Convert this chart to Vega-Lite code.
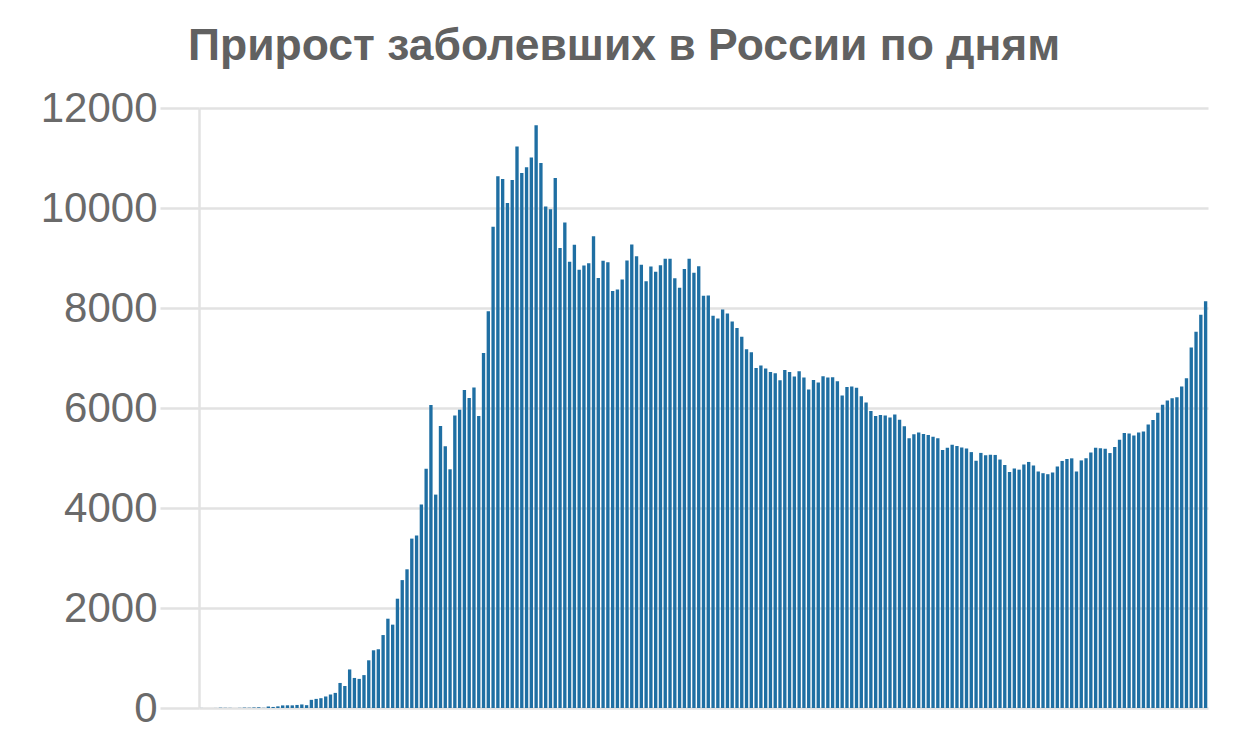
{
  "$schema": "https://vega.github.io/schema/vega-lite/v6.json",
  "width": 1009,
  "height": 600,
  "autosize": {"type": "none"},
  "padding": {"left": 199, "top": 108, "right": 34, "bottom": 28},
  "background": "#ffffff",
  "view": {"stroke": null},
  "title": {
    "text": "Прирост заболевших в России по дням",
    "font": "Liberation Sans",
    "fontSize": 44.5,
    "fontWeight": "bold",
    "color": "#616161",
    "anchor": "middle",
    "frame": "bounds",
    "offset": 18
  },
  "data": {"values": [
    {"d":"2020-03-02","v":1},{"d":"2020-03-03","v":0},{"d":"2020-03-04","v":0},{"d":"2020-03-05","v":1},{"d":"2020-03-06","v":6},{"d":"2020-03-07","v":4},{"d":"2020-03-08","v":3},{"d":"2020-03-09","v":0},{"d":"2020-03-10","v":3},{"d":"2020-03-11","v":8},{"d":"2020-03-12","v":6},{"d":"2020-03-13","v":11},{"d":"2020-03-14","v":14},{"d":"2020-03-15","v":4},{"d":"2020-03-16","v":30},{"d":"2020-03-17","v":21},{"d":"2020-03-18","v":33},{"d":"2020-03-19","v":52},{"d":"2020-03-20","v":54},{"d":"2020-03-21","v":53},{"d":"2020-03-22","v":61},{"d":"2020-03-23","v":71},{"d":"2020-03-24","v":57},{"d":"2020-03-25","v":163},{"d":"2020-03-26","v":182},{"d":"2020-03-27","v":196},{"d":"2020-03-28","v":228},{"d":"2020-03-29","v":270},{"d":"2020-03-30","v":302},{"d":"2020-03-31","v":501},
    {"d":"2020-04-01","v":440},{"d":"2020-04-02","v":771},{"d":"2020-04-03","v":601},{"d":"2020-04-04","v":582},{"d":"2020-04-05","v":658},{"d":"2020-04-06","v":954},{"d":"2020-04-07","v":1154},{"d":"2020-04-08","v":1175},{"d":"2020-04-09","v":1459},{"d":"2020-04-10","v":1786},{"d":"2020-04-11","v":1667},{"d":"2020-04-12","v":2186},{"d":"2020-04-13","v":2558},{"d":"2020-04-14","v":2774},{"d":"2020-04-15","v":3388},{"d":"2020-04-16","v":3448},{"d":"2020-04-17","v":4070},{"d":"2020-04-18","v":4785},{"d":"2020-04-19","v":6060},{"d":"2020-04-20","v":4268},{"d":"2020-04-21","v":5642},{"d":"2020-04-22","v":5236},{"d":"2020-04-23","v":4774},{"d":"2020-04-24","v":5849},{"d":"2020-04-25","v":5966},{"d":"2020-04-26","v":6361},{"d":"2020-04-27","v":6198},{"d":"2020-04-28","v":6411},{"d":"2020-04-29","v":5841},{"d":"2020-04-30","v":7099},
    {"d":"2020-05-01","v":7933},{"d":"2020-05-02","v":9623},{"d":"2020-05-03","v":10633},{"d":"2020-05-04","v":10581},{"d":"2020-05-05","v":10102},{"d":"2020-05-06","v":10559},{"d":"2020-05-07","v":11231},{"d":"2020-05-08","v":10699},{"d":"2020-05-09","v":10817},{"d":"2020-05-10","v":11012},{"d":"2020-05-11","v":11656},{"d":"2020-05-12","v":10899},{"d":"2020-05-13","v":10028},{"d":"2020-05-14","v":9974},{"d":"2020-05-15","v":10598},{"d":"2020-05-16","v":9200},{"d":"2020-05-17","v":9709},{"d":"2020-05-18","v":8926},{"d":"2020-05-19","v":9263},{"d":"2020-05-20","v":8764},{"d":"2020-05-21","v":8849},{"d":"2020-05-22","v":8894},{"d":"2020-05-23","v":9434},{"d":"2020-05-24","v":8599},{"d":"2020-05-25","v":8946},{"d":"2020-05-26","v":8915},{"d":"2020-05-27","v":8338},{"d":"2020-05-28","v":8371},{"d":"2020-05-29","v":8572},{"d":"2020-05-30","v":8952},{"d":"2020-05-31","v":9268},
    {"d":"2020-06-01","v":9035},{"d":"2020-06-02","v":8863},{"d":"2020-06-03","v":8536},{"d":"2020-06-04","v":8831},{"d":"2020-06-05","v":8726},{"d":"2020-06-06","v":8855},{"d":"2020-06-07","v":8984},{"d":"2020-06-08","v":8985},{"d":"2020-06-09","v":8595},{"d":"2020-06-10","v":8404},{"d":"2020-06-11","v":8779},{"d":"2020-06-12","v":8987},{"d":"2020-06-13","v":8706},{"d":"2020-06-14","v":8835},{"d":"2020-06-15","v":8246},{"d":"2020-06-16","v":8248},{"d":"2020-06-17","v":7843},{"d":"2020-06-18","v":7790},{"d":"2020-06-19","v":7972},{"d":"2020-06-20","v":7889},{"d":"2020-06-21","v":7728},{"d":"2020-06-22","v":7600},{"d":"2020-06-23","v":7425},{"d":"2020-06-24","v":7176},{"d":"2020-06-25","v":7113},{"d":"2020-06-26","v":6800},{"d":"2020-06-27","v":6852},{"d":"2020-06-28","v":6791},{"d":"2020-06-29","v":6719},{"d":"2020-06-30","v":6693},
    {"d":"2020-07-01","v":6556},{"d":"2020-07-02","v":6760},{"d":"2020-07-03","v":6718},{"d":"2020-07-04","v":6632},{"d":"2020-07-05","v":6736},{"d":"2020-07-06","v":6611},{"d":"2020-07-07","v":6368},{"d":"2020-07-08","v":6562},{"d":"2020-07-09","v":6509},{"d":"2020-07-10","v":6635},{"d":"2020-07-11","v":6611},{"d":"2020-07-12","v":6615},{"d":"2020-07-13","v":6537},{"d":"2020-07-14","v":6248},{"d":"2020-07-15","v":6422},{"d":"2020-07-16","v":6428},{"d":"2020-07-17","v":6406},{"d":"2020-07-18","v":6234},{"d":"2020-07-19","v":6109},{"d":"2020-07-20","v":5940},{"d":"2020-07-21","v":5842},{"d":"2020-07-22","v":5862},{"d":"2020-07-23","v":5848},{"d":"2020-07-24","v":5811},{"d":"2020-07-25","v":5871},{"d":"2020-07-26","v":5765},{"d":"2020-07-27","v":5635},{"d":"2020-07-28","v":5395},{"d":"2020-07-29","v":5475},{"d":"2020-07-30","v":5509},{"d":"2020-07-31","v":5482},
    {"d":"2020-08-01","v":5462},{"d":"2020-08-02","v":5427},{"d":"2020-08-03","v":5394},{"d":"2020-08-04","v":5159},{"d":"2020-08-05","v":5204},{"d":"2020-08-06","v":5267},{"d":"2020-08-07","v":5241},{"d":"2020-08-08","v":5212},{"d":"2020-08-09","v":5189},{"d":"2020-08-10","v":5118},{"d":"2020-08-11","v":4945},{"d":"2020-08-12","v":5102},{"d":"2020-08-13","v":5057},{"d":"2020-08-14","v":5065},{"d":"2020-08-15","v":5061},{"d":"2020-08-16","v":4969},{"d":"2020-08-17","v":4860},{"d":"2020-08-18","v":4718},{"d":"2020-08-19","v":4790},{"d":"2020-08-20","v":4767},{"d":"2020-08-21","v":4870},{"d":"2020-08-22","v":4921},{"d":"2020-08-23","v":4852},{"d":"2020-08-24","v":4730},{"d":"2020-08-25","v":4696},{"d":"2020-08-26","v":4676},{"d":"2020-08-27","v":4711},{"d":"2020-08-28","v":4829},{"d":"2020-08-29","v":4941},{"d":"2020-08-30","v":4980},{"d":"2020-08-31","v":4993},
    {"d":"2020-09-01","v":4729},{"d":"2020-09-02","v":4952},{"d":"2020-09-03","v":4995},{"d":"2020-09-04","v":5110},{"d":"2020-09-05","v":5205},{"d":"2020-09-06","v":5195},{"d":"2020-09-07","v":5185},{"d":"2020-09-08","v":5099},{"d":"2020-09-09","v":5218},{"d":"2020-09-10","v":5363},{"d":"2020-09-11","v":5499},{"d":"2020-09-12","v":5488},{"d":"2020-09-13","v":5449},{"d":"2020-09-14","v":5509},{"d":"2020-09-15","v":5529},{"d":"2020-09-16","v":5670},{"d":"2020-09-17","v":5762},{"d":"2020-09-18","v":5905},{"d":"2020-09-19","v":6065},{"d":"2020-09-20","v":6148},{"d":"2020-09-21","v":6196},{"d":"2020-09-22","v":6215},{"d":"2020-09-23","v":6431},{"d":"2020-09-24","v":6595},{"d":"2020-09-25","v":7212},{"d":"2020-09-26","v":7523},{"d":"2020-09-27","v":7867},{"d":"2020-09-28","v":8135}
  ]},
  "mark": {"type": "bar", "color": "#1f6fa3"},
  "encoding": {
    "x": {
      "field": "d",
      "type": "ordinal",
      "sort": "ascending",
      "axis": null,
      "scale": {"paddingInner": 0.3, "paddingOuter": 0.15}
    },
    "y": {
      "field": "v",
      "type": "quantitative",
      "scale": {"domain": [0, 12000], "nice": false},
      "axis": {
        "title": null,
        "values": [0, 2000, 4000, 6000, 8000, 10000, 12000],
        "format": "d",
        "grid": true,
        "gridColor": "#e2e2e2",
        "gridWidth": 2.5,
        "domain": true,
        "domainColor": "#e2e2e2",
        "domainWidth": 2.5,
        "ticks": true,
        "tickSize": 39,
        "tickColor": "#e2e2e2",
        "tickWidth": 2.5,
        "labelFont": "Liberation Sans",
        "labelFontSize": 42,
        "labelColor": "#6a6a6a",
        "labelPadding": 3
      }
    }
  }
}
